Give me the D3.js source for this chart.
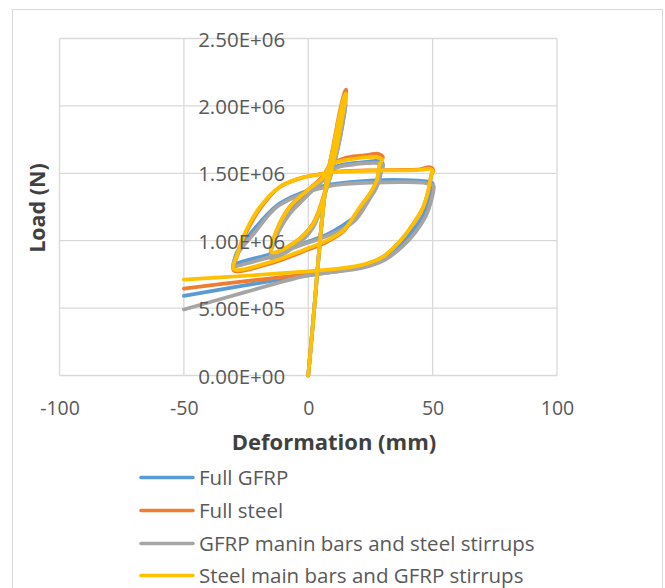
<!DOCTYPE html>
<html>
<head>
<meta charset="utf-8">
<script src="https://cdn.jsdelivr.net/npm/d3@7"></script>
<style>
  body { margin: 0; background: #fff; }
  text { font-family: "Open Sans", "Noto Sans", sans-serif; }
</style>
</head>
<body>
<script>
// ---------- data (deformation in mm, load in N) ----------
const seriesNames = ["Full GFRP", "Full steel", "GFRP manin bars and steel stirrups", "Steel main bars and GFRP stirrups"];
const seriesColors = ["#5B9BD5", "#ED7D31", "#A5A5A5", "#FFC000"];

const xTicks = [-100, -50, 0, 50, 100];
const yTicks = [0, 5e5, 1e6, 1.5e6, 2e6, 2.5e6];

const fullGfrpDef = [0, 2, 5.5, 7.4, 10, 12.7, 14.6, 15, 13.6, 11.6, 9.6, 7.4, 2, -6, -15,
  -12.8, -7.4, -0.6, 6, 8.7, 12.8, 18, 23.5, 28, 30,
  29, 27.5, 24.8, 18.8, 12.7, 7.4, -2, -15.4, -28.8, -30,
  -28.5, -22, -12.7, -4.7, 4.7, 10, 24.8, 38.2, 47.5, 50,
  49.8, 48.6, 46.6, 42.3, 37.3, 30.3, 21, 4.7, -3.3, -25, -50];
const fullGfrpLoad = [0, 0.41e6, 1.15e6, 1.45e6, 1.68e6, 1.9e6, 2.01e6, 2.02e6, 1.84e6, 1.66e6, 1.52e6, 1.39e6, 1.11e6, 0.96e6, 0.88e6,
  1.05e6, 1.22e6, 1.35e6, 1.46e6, 1.53e6, 1.56e6, 1.575e6, 1.585e6, 1.59e6, 1.57e6,
  1.51e6, 1.42e6, 1.33e6, 1.18e6, 1.1e6, 1.045e6, 0.98e6, 0.9e6, 0.83e6, 0.815e6,
  0.92e6, 1.08e6, 1.26e6, 1.34e6, 1.4e6, 1.42e6, 1.446e6, 1.45e6, 1.44e6, 1.425e6,
  1.4e6, 1.3e6, 1.2e6, 1.08e6, 0.98e6, 0.87e6, 0.805e6, 0.755e6, 0.735e6, 0.67e6, 0.59e6];

const fullSteelDef = [0, 2, 5.5, 7.4, 10, 12.7, 14.8, 15.3, 13.5, 11.5, 9.5, 7.4, 2, -6, -14.8,
  -12.8, -7.5, -0.6, 6, 8.7, 12.8, 18, 23.5, 28, 30,
  29, 27.6, 24.9, 20.9, 14.2, 7.4, -2, -15.4, -30,
  -28.5, -26, -19.3, -11.3, -2, 6, 10, 24.8, 38, 45, 49, 50.3,
  49.7, 48.3, 46.3, 42.1, 37.1, 30, 20.8, 4.7, -3.3, -25, -50];
const fullSteelLoad = [0, 0.41e6, 1.15e6, 1.45e6, 1.7e6, 1.96e6, 2.11e6, 2.12e6, 1.9e6, 1.7e6, 1.55e6, 1.41e6, 1.13e6, 0.98e6, 0.91e6,
  1.07e6, 1.25e6, 1.37e6, 1.48e6, 1.56e6, 1.6e6, 1.625e6, 1.635e6, 1.645e6, 1.62e6,
  1.58e6, 1.45e6, 1.35e6, 1.25e6, 1.07e6, 0.99e6, 0.92e6, 0.83e6, 0.78e6,
  0.89e6, 1.02e6, 1.24e6, 1.4e6, 1.47e6, 1.497e6, 1.51e6, 1.522e6, 1.525e6, 1.53e6, 1.545e6, 1.52e6,
  1.5e6, 1.37e6, 1.25e6, 1.12e6, 1.0e6, 0.88e6, 0.81e6, 0.76e6, 0.745e6, 0.7e6, 0.645e6];

const gfrpMainDef = [0, 2, 5.5, 7.4, 10, 12.7, 14.7, 15.1, 13.6, 11.6, 9.6, 7.4, 2, -6, -15,
  -12.8, -7.4, -0.6, 6, 8.7, 12.8, 18, 23.5, 28, 30,
  29.2, 27.8, 25, 18.8, 12.7, 4.7, -3.3, -15.4, -28.8, -30.3,
  -28.5, -22, -12.7, -2, 7.4, 12, 25, 38, 46, 50.3,
  50.4, 49.2, 47.2, 43, 38, 31, 22, 5, -3.3, -25, -50];
const gfrpMainLoad = [0, 0.41e6, 1.15e6, 1.45e6, 1.68e6, 1.92e6, 2.04e6, 2.05e6, 1.85e6, 1.67e6, 1.52e6, 1.39e6, 1.1e6, 0.95e6, 0.87e6,
  1.03e6, 1.2e6, 1.33e6, 1.45e6, 1.52e6, 1.55e6, 1.565e6, 1.575e6, 1.575e6, 1.555e6,
  1.5e6, 1.41e6, 1.32e6, 1.15e6, 1.076e6, 1.015e6, 0.965e6, 0.88e6, 0.81e6, 0.8e6,
  0.9e6, 1.05e6, 1.25e6, 1.35e6, 1.4e6, 1.415e6, 1.43e6, 1.435e6, 1.43e6, 1.41e6,
  1.38e6, 1.28e6, 1.18e6, 1.06e6, 0.96e6, 0.86e6, 0.8e6, 0.756e6, 0.73e6, 0.62e6, 0.49e6];

const steelMainDef = [0, 2, 5.5, 7.4, 10, 12.7, 14.7, 15.2, 13.4, 11.4, 9.4, 7.4, 2, -6, -14.7,
  -12.7, -7.4, -0.6, 6, 8.7, 12.8, 18, 23.5, 27.5, 29.8,
  28.8, 27.5, 24.8, 20.8, 14.1, 7.4, -2, -15.4, -30,
  -28.5, -26.1, -19.4, -11.4, -2, 6, 10, 24.8, 38, 44.9, 48.9, 50.2,
  49.6, 48.2, 46.2, 42, 37, 30, 20.8, 4.7, -3.3, -25, -50];
const steelMainLoad = [0, 0.41e6, 1.15e6, 1.45e6, 1.69e6, 1.94e6, 2.08e6, 2.09e6, 1.89e6, 1.69e6, 1.54e6, 1.4e6, 1.125e6, 0.98e6, 0.915e6,
  1.076e6, 1.25e6, 1.37e6, 1.47e6, 1.557e6, 1.59e6, 1.606e6, 1.62e6, 1.62e6, 1.6e6,
  1.57e6, 1.446e6, 1.35e6, 1.25e6, 1.076e6, 1.0e6, 0.93e6, 0.84e6, 0.79e6,
  0.9e6, 1.03e6, 1.25e6, 1.4e6, 1.47e6, 1.495e6, 1.507e6, 1.52e6, 1.522e6, 1.525e6, 1.532e6, 1.51e6,
  1.495e6, 1.37e6, 1.25e6, 1.12e6, 1.0e6, 0.88e6, 0.817e6, 0.78e6, 0.768e6, 0.74e6, 0.711e6];

const seriesDefs = [fullGfrpDef, fullSteelDef, gfrpMainDef, steelMainDef];
const seriesLoads = [fullGfrpLoad, fullSteelLoad, gfrpMainLoad, steelMainLoad];

// ---------- layout ----------
const width = 665;
const height = 588;
const plotLeft = 59.5, plotRight = 557, plotTop = 38.5, plotBottom = 375.5;

const svg = d3.select("body")
  .append("svg")
  .attr("width", width)
  .attr("height", height);

// chart area border
svg.append("rect")
  .attr("x", 12.5).attr("y", 9.5)
  .attr("width", 650).attr("height", 600)
  .attr("fill", "#fff")
  .attr("stroke", "#D9D9D9")
  .attr("stroke-width", 1);

const x = d3.scaleLinear().domain([-100, 100]).range([plotLeft, plotRight]);
const y = d3.scaleLinear().domain([0, 2.5e6]).range([plotBottom, plotTop]);

// gridlines
svg.append("g")
  .selectAll("line")
  .data(xTicks)
  .enter().append("line")
  .attr("x1", d => x(d)).attr("x2", d => x(d))
  .attr("y1", plotTop).attr("y2", plotBottom)
  .attr("stroke", "#D9D9D9").attr("stroke-width", 1.3);
svg.append("g")
  .selectAll("line")
  .data(yTicks)
  .enter().append("line")
  .attr("x1", plotLeft).attr("x2", plotRight)
  .attr("y1", d => y(d)).attr("y2", d => y(d))
  .attr("stroke", "#D9D9D9").attr("stroke-width", 1.3);

// ---------- series ----------
const line = d3.line()
  .x(d => x(d[0]))
  .y(d => y(d[1]))
  .curve(d3.curveCatmullRom.alpha(0.5));

const plot = svg.append("g");
seriesNames.forEach(function (name, i) {
  const pts = seriesDefs[i].map((v, j) => [v, seriesLoads[i][j]]);
  plot.append("path")
    .datum(pts)
    .attr("d", line)
    .attr("fill", "none")
    .attr("stroke", seriesColors[i])
    .attr("stroke-width", 3.75)
    .attr("stroke-linejoin", "round")
    .attr("stroke-linecap", "round");
});

// x axis labels
const xAxis = svg.append("g")
  .attr("transform", "translate(0," + plotBottom + ")")
  .call(d3.axisBottom(x).tickValues(xTicks).tickSize(0).tickFormat(d => String(d)));
xAxis.select(".domain").remove();
xAxis.selectAll("text")
  .attr("y", 39.5).attr("dy", 0)
  .style("font-family", "'Open Sans', sans-serif")
  .style("font-size", "19.5px")
  .attr("fill", "#595959");

// y axis labels sit next to the x = 0 line, drawn over the curves like Excel does
function sciFormat(v) {
  return v.toExponential(2).replace(/e([+-])(\d)$/, (m, s, d) => "E" + s + "0" + d).replace("e", "E");
}
const yAxis = svg.append("g")
  .attr("transform", "translate(" + x(0) + ",0)")
  .call(d3.axisLeft(y).tickValues(yTicks).tickSize(0).tickPadding(23).tickFormat(sciFormat));
yAxis.select(".domain").remove();
yAxis.selectAll("text")
  .attr("dy", 0).attr("y", 7.5)
  .style("font-family", "'Open Sans', sans-serif")
  .style("font-size", "20.5px")
  .attr("fill", "#595959");

// axis titles
svg.append("text")
  .attr("x", 334).attr("y", 450)
  .attr("text-anchor", "middle")
  .style("font-size", "22px")
  .style("font-weight", "bold")
  .attr("fill", "#404040")
  .text("Deformation (mm)");

svg.append("text")
  .attr("transform", "translate(45,208) rotate(-90)")
  .attr("text-anchor", "middle")
  .style("font-size", "21.5px")
  .style("font-weight", "bold")
  .attr("fill", "#404040")
  .text("Load (N)");

// ---------- legend ----------
const legendRows = [477.5, 510.5, 543.5, 575.5];
const legend = svg.append("g");
seriesNames.forEach(function (name, i) {
  const g = legend.append("g").attr("transform", "translate(0," + legendRows[i] + ")");
  g.append("line")
    .attr("x1", 141).attr("x2", 193)
    .attr("y1", 0).attr("y2", 0)
    .attr("stroke", seriesColors[i])
    .attr("stroke-width", 3.5)
    .attr("stroke-linecap", "round");
  g.append("text")
    .attr("x", 199).attr("y", 7)
    .style("font-size", "20.5px")
    .attr("fill", "#595959")
    .text(name);
});
</script>
</body>
</html>
